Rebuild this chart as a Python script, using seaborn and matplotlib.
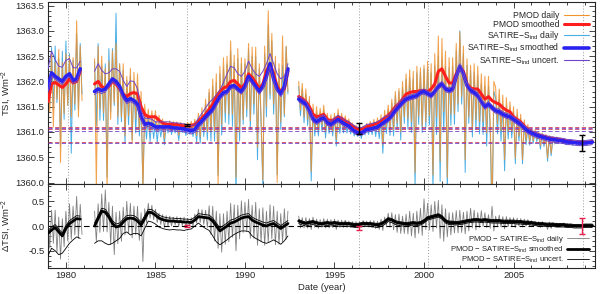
import numpy as np
import pandas as pd
import matplotlib
matplotlib.use("Agg")
import matplotlib.pyplot as plt
from matplotlib.lines import Line2D
from matplotlib.ticker import MultipleLocator, FormatStrFormatter
import seaborn as sns

nan = np.nan

# daily series, one value every 0.1 yr from 1979.0 to 2009.5
years_daily = np.round(1979.0 + 0.1 * np.arange(306), 1)

pmod_daily = [
    1362.1, 1361.4, 1362.55, 1361.1, 1362.38, 1361.65, 1362.63, 1360.4, 1362.38, 1361.36,
    1362.55, 1361.53, 1362.5, 1361.3, 1362.47, 1361.55, 1363.2, 1361.3, 1362.7, 1361.62,
    nan, nan, nan, nan, nan, nan, 1362.45, 1359.9, 1362.7, 1361.45,
    1362.5, 1361.38, 1362.26, 1359.85, 1362.4, 1361.25, 1362.6, 1361.58, 1362.75, 1361.3,
    1362.35, 1361.3, 1362.35, 1360.92, 1362.1, 1361.32, 1362.26, 1360.8, 1362.18, 1361.26,
    1362.15, 1361.05, 1361.8, 1359.82, 1361.55, 1361.07, 1361.45, 1361.0, 1361.42, 1361.1,
    1361.42, 1361.02, 1361.33, 1361.05, 1361.26, 1360.86, 1361.21, 1361.05, 1361.22, 1361.03,
    1361.21, 1361.07, 1361.2, 1360.94, 1361.19, 1361.07, 1361.17, 1361.02, 1361.19, 1361.07,
    1361.21, 1361.04, 1361.25, 1360.93, 1361.37, 1360.9, 1361.48, 1361.02, 1361.65, 1361.0,
    1361.85, 1361.0, 1362.05, 1361.02, 1362.15, 1359.95, 1362.3, 1361.15, 1362.47, 1361.38,
    1362.5, 1361.35, 1362.8, 1361.35, 1362.52, 1360.1, 1362.65, 1361.0, 1362.47, 1361.25,
    1362.45, 1361.45, 1362.75, 1361.22, 1362.68, 1361.55, 1362.68, 1360.7, 1362.35, 1361.28,
    1360.05, 1362.7, 1361.5, 1363.4, 1361.75, 1362.95, 1361.55, 1362.5, 1360.0, 1362.35,
    1361.2, 1362.9, 1361.35, 1362.7, 1361.8, nan, nan, nan, nan, nan,
    1362.0, 1361.43, 1361.96, 1361.3, 1361.85, 1361.25, 1361.7, 1360.22, 1361.55, 1361.05,
    1361.5, 1361.05, 1361.47, 1361.14, 1361.53, 1361.0, 1361.37, 1361.09, 1361.34, 1361.02,
    1361.37, 1360.85, 1361.45, 1361.08, 1361.37, 1361.1, 1361.32, 1361.08, 1361.26, 1361.05,
    1361.18, 1361.02, 1361.13, 1360.99, 1361.1, 1360.96, 1361.12, 1361.02, 1361.17, 1361.04,
    1361.21, 1361.04, 1361.25, 1361.02, 1361.28, 1361.0, 1361.34, 1360.75, 1361.43, 1361.1,
    1361.53, 1361.06, 1361.65, 1361.05, 1361.8, 1361.18, 1361.86, 1361.0, 1362.0, 1361.3,
    1362.15, 1361.26, 1362.23, 1361.2, 1362.2, 1360.2, 1362.3, 1361.31, 1362.27, 1361.12,
    1362.32, 1361.2, 1362.4, 1361.32, 1362.35, 1360.15, 1362.55, 1361.3, 1362.9, 1360.42,
    1362.85, 1361.4, 1362.6, 1360.1, 1362.47, 1361.35, 1362.47, 1361.35, 1362.75, 1361.55,
    1362.98, 1361.7, 1362.7, 1360.45, 1362.45, 1361.3, 1362.32, 1361.05, 1362.35, 1361.25,
    1362.3, 1361.2, 1362.15, 1361.2, 1362.1, 1360.98, 1362.1, 1361.18, 1359.42, 1362.0,
    1361.88, 1361.16, 1361.85, 1361.02, 1361.73, 1360.45, 1361.68, 1361.01, 1361.6, 1361.01,
    1361.5, 1360.48, 1361.45, 1360.92, 1361.35, 1360.45, 1361.24, 1360.83, 1361.15, 1360.82,
    1361.08, 1360.83, 1361.04, 1360.86, 1361.0, 1360.73, 1360.98, 1360.76, 1360.95, 1360.49,
    1360.93, 1360.58, 1360.91, 1360.78, 1360.9, 1360.79, 1360.88, 1360.79, 1360.87, 1360.77,
    1360.85, 1360.78, 1360.84, 1360.76, 1360.82, 1360.77, 1360.83, 1360.76, 1360.81, 1360.76,
    1360.81, 1360.76, 1360.82, 1360.77, 1360.83, 1360.8,
]

satire_daily = [
    1362.25, 1361.55, 1362.67, 1361.44, 1362.7, 1361.58, 1362.45, 1360.72, 1362.6, 1361.25,
    1362.8, 1361.53, 1362.55, 1360.58, 1362.42, 1361.43, 1362.95, 1361.45, 1362.75, 1361.75,
    nan, nan, nan, nan, nan, nan, 1362.4, 1361.12, 1362.75, 1361.23,
    1362.32, 1361.23, 1362.35, 1360.1, 1362.65, 1361.4, 1362.65, 1361.52, 1363.35, 1361.15,
    1362.35, 1361.2, 1362.22, 1360.77, 1362.02, 1361.14, 1362.11, 1360.84, 1361.97, 1360.98,
    1361.9, 1360.92, 1361.6, 1359.92, 1361.35, 1360.86, 1361.32, 1360.81, 1361.27, 1360.87,
    1361.2, 1360.8, 1361.18, 1360.9, 1361.17, 1360.75, 1361.16, 1360.98, 1361.16, 1360.95,
    1361.13, 1360.98, 1361.13, 1360.83, 1361.12, 1360.99, 1361.1, 1360.93, 1361.1, 1360.96,
    1361.09, 1360.91, 1361.13, 1360.8, 1361.27, 1360.78, 1361.37, 1360.91, 1361.55, 1360.84,
    1361.78, 1360.82, 1361.9, 1360.82, 1361.98, 1360.14, 1362.15, 1360.94, 1362.28, 1361.19,
    1362.35, 1361.15, 1362.6, 1361.11, 1362.37, 1359.68, 1362.45, 1360.82, 1362.35, 1361.15,
    1362.35, 1361.3, 1362.65, 1361.05, 1362.5, 1361.35, 1362.5, 1360.45, 1362.25, 1361.15,
    1359.9, 1362.55, 1361.3, 1363.12, 1361.65, 1362.8, 1361.35, 1362.4, 1360.15, 1362.25,
    1361.05, 1362.32, 1361.3, 1362.68, 1361.75, nan, nan, nan, nan, nan,
    1361.9, 1361.32, 1361.85, 1361.18, 1361.75, 1361.13, 1361.62, 1360.03, 1361.45, 1360.92,
    1361.38, 1360.92, 1361.4, 1361.02, 1361.43, 1360.88, 1361.3, 1360.97, 1361.25, 1360.92,
    1361.3, 1360.72, 1361.37, 1360.97, 1361.3, 1360.98, 1361.25, 1360.98, 1361.19, 1360.96,
    1361.1, 1360.92, 1361.05, 1360.91, 1361.02, 1360.87, 1361.05, 1360.94, 1361.11, 1360.95,
    1361.13, 1360.95, 1361.16, 1360.91, 1361.2, 1360.87, 1361.25, 1360.58, 1361.32, 1360.97,
    1361.45, 1360.93, 1361.57, 1360.92, 1361.72, 1361.06, 1361.8, 1360.84, 1361.88, 1361.17,
    1362.05, 1361.06, 1362.08, 1360.99, 1362.05, 1359.91, 1362.17, 1361.15, 1362.18, 1360.99,
    1362.25, 1361.08, 1362.26, 1361.14, 1362.17, 1359.85, 1362.3, 1360.95, 1362.5, 1360.02,
    1362.45, 1361.0, 1362.3, 1359.83, 1362.27, 1361.13, 1362.3, 1361.15, 1362.6, 1361.4,
    1363.0, 1361.55, 1362.55, 1360.2, 1362.32, 1361.17, 1362.22, 1360.9, 1362.18, 1361.05,
    1362.12, 1360.96, 1361.95, 1360.95, 1361.9, 1360.72, 1361.9, 1360.92, 1359.18, 1361.8,
    1361.67, 1360.96, 1361.65, 1360.82, 1361.55, 1360.23, 1361.52, 1360.86, 1361.48, 1360.88,
    1361.4, 1360.37, 1361.35, 1360.82, 1361.27, 1360.37, 1361.18, 1360.75, 1361.1, 1360.74,
    1361.04, 1360.78, 1361.0, 1360.81, 1360.97, 1360.66, 1360.95, 1360.71, 1360.92, 1360.42,
    1360.9, 1360.53, 1360.88, 1360.76, 1360.87, 1360.77, 1360.86, 1360.77, 1360.84, 1360.75,
    1360.82, 1360.75, 1360.83, 1360.73, 1360.81, 1360.75, 1360.8, 1360.73, 1360.8, 1360.74,
    1360.8, 1360.75, 1360.81, 1360.76, 1360.82, 1360.79,
]

diff_daily = [
    0.15, -0.45, 0.32, -0.35, 0.32, -0.53, 0.18, -0.67, 0.15, -0.42,
    0.3, -0.3, 0.45, -0.27, 0.4, -0.18, 0.6, -0.25, 0.44, -0.17,
    nan, nan, nan, nan, nan, nan, 0.3, -0.32, 0.45, -0.13,
    0.65, -0.11, 0.73, -0.12, 0.48, -0.38, 0.4, -0.58, 0.28, -0.36,
    0.3, -0.31, 0.38, -0.18, 0.5, -0.14, 0.46, -0.24, 0.4, -0.18,
    0.4, -0.29, 0.27, -0.72, 0.35, 0.07, 0.46, 0.16, 0.42, 0.13,
    0.34, 0.07, 0.26, 0.03, 0.23, -0.03, 0.21, 0.0, 0.2, 0.0,
    0.18, 0.02, 0.19, -0.01, 0.17, 0.01, 0.18, -0.02, 0.15, 0.0,
    0.17, 0.0, 0.24, 0.06, 0.34, 0.07, 0.33, 0.03, 0.32, -0.03,
    0.41, -0.17, 0.4, -0.3, 0.3, -0.45, 0.25, -0.53, 0.25, -0.37,
    0.3, -0.32, 0.46, -0.23, 0.43, -0.5, 0.42, -0.26, 0.51, -0.13,
    0.48, -0.11, 0.54, -0.25, 0.42, -0.25, 0.48, -0.39, 0.35, -0.32,
    0.37, -0.39, 0.3, -0.33, 0.43, -0.26, 0.4, -0.38, 0.3, -0.37,
    0.25, -0.32, 0.35, -0.27, 0.3, nan, nan, nan, nan, nan,
    0.2, -0.04, 0.17, -0.04, 0.17, -0.04, 0.15, -0.07, 0.18, -0.03,
    0.14, -0.05, 0.13, -0.03, 0.15, -0.04, 0.14, -0.04, 0.13, -0.03,
    0.14, -0.07, 0.12, -0.03, 0.12, -0.03, 0.12, -0.03, 0.1, -0.03,
    0.09, -0.03, 0.09, -0.04, 0.08, -0.03, 0.11, 0.0, 0.1, -0.02,
    0.11, -0.03, 0.11, -0.05, 0.1, -0.07, 0.14, -0.09, 0.18, 0.01,
    0.26, -0.02, 0.27, -0.08, 0.23, -0.13, 0.24, -0.15, 0.2, -0.15,
    0.24, -0.16, 0.3, -0.2, 0.26, -0.24, 0.3, -0.15, 0.36, -0.19,
    0.55, -0.07, 0.46, -0.08, 0.43, -0.11, 0.5, -0.04, 0.52, -0.25,
    0.43, -0.31, 0.35, -0.22, 0.27, -0.18, 0.27, -0.14, 0.31, -0.14,
    0.32, -0.13, 0.28, -0.16, 0.3, -0.1, 0.36, -0.04, 0.32, -0.08,
    0.27, -0.03, 0.31, -0.01, 0.27, -0.03, 0.23, -0.05, 0.4, -0.1,
    0.2, 0.0, 0.22, -0.02, 0.19, -0.06, 0.19, -0.01, 0.17, -0.01,
    0.17, -0.03, 0.16, 0.0, 0.15, -0.02, 0.14, 0.0, 0.13, 0.0,
    0.11, 0.0, 0.1, 0.0, 0.09, -0.03, 0.09, -0.01, 0.07, -0.07,
    0.08, -0.05, 0.07, -0.01, 0.06, -0.02, 0.05, -0.02, 0.06, -0.02,
    0.05, -0.02, 0.04, -0.03, 0.03, -0.03, 0.03, -0.03, 0.03, -0.03,
    0.04, -0.02, 0.03, -0.02, 0.03, 0.0,
]

# smoothed series, one value every 0.2 yr from 1979.0 to 2009.4
years_smooth = np.round(1979.0 + 0.2 * np.arange(153), 1)

pmod_smooth = [
    1361.6, 1361.95, 1361.98, 1361.93, 1361.88,
    1361.95, 1362.05, 1361.97, 1362.0, 1362.2,
    nan, nan, nan, 1361.95, 1362.0,
    1361.9, 1361.86, 1361.9, 1362.0, 1361.95,
    1361.85, 1361.75, 1361.7, 1361.76, 1361.78,
    1361.75, 1361.5, 1361.35, 1361.3, 1361.3,
    1361.3, 1361.23, 1361.18, 1361.15, 1361.15,
    1361.15, 1361.15, 1361.13, 1361.12, 1361.12,
    1361.13, 1361.15, 1361.22, 1361.28, 1361.35,
    1361.45, 1361.55, 1361.7, 1361.8, 1361.87,
    1361.9, 1362.0, 1362.02, 1361.95, 1361.87,
    1361.95, 1362.15, 1362.08, 1361.98, 1361.85,
    1361.95, 1362.2, 1362.35, 1362.15, 1361.9,
    1361.8, 1361.85, 1362.2, nan, nan,
    1361.7, 1361.66, 1361.6, 1361.5, 1361.35,
    1361.3, 1361.32, 1361.35, 1361.25, 1361.22,
    1361.25, 1361.3, 1361.27, 1361.22, 1361.18,
    1361.12, 1361.08, 1361.05, 1361.07, 1361.1,
    1361.13, 1361.15, 1361.18, 1361.22, 1361.28,
    1361.33, 1361.4, 1361.5, 1361.56, 1361.65,
    1361.75, 1361.78, 1361.8, 1361.8, 1361.82,
    1361.82, 1361.8, 1361.85, 1361.95, 1362.2,
    1362.25, 1362.1, 1361.97, 1361.97, 1362.15,
    1362.28, 1362.2, 1361.95, 1361.87, 1361.85,
    1361.85, 1361.75, 1361.65, 1361.7, 1361.62,
    1361.58, 1361.55, 1361.48, 1361.43, 1361.4,
    1361.3, 1361.25, 1361.2, 1361.12, 1361.05,
    1361.0, 1360.97, 1360.94, 1360.92, 1360.9,
    1360.88, 1360.87, 1360.86, 1360.85, 1360.84,
    1360.82, 1360.81, 1360.8, 1360.8, 1360.79,
    1360.79, 1360.8, 1360.81,
]

satire_smooth = [
    1361.85, 1362.17, 1362.1, 1362.05, 1362.0,
    1362.1, 1362.15, 1362.02, 1362.05, 1362.25,
    nan, nan, nan, 1361.8, 1361.85,
    1361.82, 1361.85, 1361.95, 1362.05, 1362.0,
    1361.9, 1361.72, 1361.62, 1361.66, 1361.62,
    1361.55, 1361.3, 1361.15, 1361.17, 1361.15,
    1361.1, 1361.1, 1361.1, 1361.1, 1361.1,
    1361.08, 1361.08, 1361.07, 1361.06, 1361.04,
    1361.02, 1361.05, 1361.15, 1361.22, 1361.3,
    1361.38, 1361.45, 1361.58, 1361.7, 1361.78,
    1361.8, 1361.9, 1361.92, 1361.85, 1361.8,
    1361.9, 1362.1, 1362.0, 1361.9, 1361.8,
    1361.9, 1362.1, 1362.35, 1362.05, 1361.85,
    1361.75, 1361.9, 1362.25, nan, nan,
    1361.65, 1361.6, 1361.55, 1361.42, 1361.25,
    1361.2, 1361.25, 1361.28, 1361.18, 1361.15,
    1361.2, 1361.25, 1361.2, 1361.15, 1361.12,
    1361.05, 1361.0, 1360.98, 1361.0, 1361.05,
    1361.06, 1361.08, 1361.1, 1361.15, 1361.2,
    1361.25, 1361.32, 1361.42, 1361.5, 1361.58,
    1361.65, 1361.68, 1361.7, 1361.72, 1361.78,
    1361.8, 1361.76, 1361.72, 1361.8, 1361.9,
    1361.95, 1361.85, 1361.82, 1361.85, 1362.1,
    1362.3, 1362.15, 1361.92, 1361.82, 1361.78,
    1361.72, 1361.6, 1361.5, 1361.55, 1361.48,
    1361.42, 1361.4, 1361.35, 1361.32, 1361.3,
    1361.25, 1361.2, 1361.15, 1361.08, 1361.02,
    1360.98, 1360.95, 1360.92, 1360.9, 1360.88,
    1360.86, 1360.85, 1360.84, 1360.83, 1360.82,
    1360.8, 1360.8, 1360.79, 1360.78, 1360.78,
    1360.78, 1360.79, 1360.8,
]

# SATIRE uncertainty range (above / below the smoothed curve)
satire_unc_up = [
    0.4, 0.43, 0.33, 0.25, 0.28,  0.32, 0.3, 0.25, 0.22, 0.15,
    0.4, 0.4, 0.4, 0.4, 0.5,  0.4, 0.3, 0.22, 0.2, 0.25,
    0.3, 0.3, 0.28, 0.35, 0.38,  0.3, 0.12, 0.12, 0.1, 0.1,
    0.1, 0.1, 0.1, 0.1, 0.1,  0.1, 0.1, 0.1, 0.1, 0.1,
    0.1, 0.1, 0.12, 0.15, 0.18,  0.2, 0.2, 0.15, 0.13, 0.2,
    0.35, 0.4, 0.35, 0.3, 0.3,  0.3, 0.3, 0.25, 0.25, 0.3,
    0.3, 0.25, 0.2, 0.3, 0.3,  0.3, 0.2, 0.1, 0.1, 0.1,
] + [0.06] * 10 + [0.08] * 5 + [0.1] * 10 + [0.08] * 5 + [0.05] * 53
satire_unc_dn = [0.06] * 50 + [0.05] * 103

# PMOD - SATIRE smoothed difference and its uncertainty range
diff_smooth = [
    -0.15, -0.08, -0.03, -0.12, -0.2,
    -0.05, 0.05, 0.1, 0.15, 0.14,
    nan, nan, nan, 0.0, 0.15,
    0.3, 0.28, 0.18, 0.05, -0.02,
    0.0, 0.08, 0.15, 0.16, 0.15,
    0.1, 0.02, 0.15, 0.28, 0.27,
    0.22, 0.16, 0.13, 0.11, 0.1,
    0.1, 0.09, 0.09, 0.08, 0.08,
    0.07, 0.12, 0.19, 0.18, 0.17,
    0.16, 0.1, 0.0, -0.1, -0.05,
    0.0, 0.06, 0.08, 0.12, 0.16,
    0.18, 0.19, 0.12, 0.08, 0.05,
    0.02, 0.0, 0.03, 0.05, 0.0,
    -0.05, 0.0, 0.05, nan, nan,
    0.1, 0.07, 0.05, 0.07, 0.08,
    0.06, 0.04, 0.05, 0.06, 0.05,
    0.06, 0.05, 0.04, 0.05, 0.04,
    0.03, 0.02, 0.03, 0.05, 0.04,
    0.04, 0.03, 0.02, 0.04, 0.08,
    0.14, 0.12, 0.08, 0.06, 0.05,
    0.04, 0.05, 0.06, 0.05, 0.06,
    0.1, 0.16, 0.18, 0.2, 0.22,
    0.18, 0.1, 0.07, 0.07, 0.06,
    0.07, 0.08, 0.1, 0.11, 0.12,
    0.12, 0.11, 0.12, 0.11, 0.1,
    0.1, 0.1, 0.09, 0.09, 0.09,
    0.09, 0.08, 0.08, 0.07, 0.07,
    0.06, 0.05, 0.04, 0.04, 0.03,
    0.03, 0.03, 0.02, 0.02, 0.02,
    0.01, 0.01, 0.0, 0.0, 0.0,
    0.01, 0.01, 0.01,
]
diff_unc_up = [0.06] * 70 + [0.03] * 83
diff_unc_dn = [
    0.45, 0.37, 0.47, 0.46, 0.35,  0.4, 0.4, 0.38, 0.37, 0.39,
    0.4, 0.4, 0.4, 0.35, 0.45,  0.6, 0.63, 0.56, 0.4, 0.28,
    0.25, 0.23, 0.27, 0.34, 0.3,  0.25, 0.22, 0.2, 0.18, 0.19,
    0.18, 0.18, 0.18, 0.18, 0.18,  0.17, 0.17, 0.17, 0.17, 0.15,
    0.13, 0.12, 0.13, 0.18, 0.22,  0.25, 0.3, 0.32, 0.28, 0.28,
    0.28, 0.28, 0.25, 0.25, 0.26,  0.28, 0.3, 0.32, 0.33, 0.34,
    0.35, 0.35, 0.35, 0.33, 0.32,  0.32, 0.3, 0.25, 0.25, 0.25,
] + [0.05] * 30 + [0.04] * 53

# epochs marked by dotted lines, minimum levels, error bars
epoch_years = [1980.1, 1986.75, 1996.35, 2000.25, 2008.9]
pmod_min_levels = [1361.10, 1361.05, 1360.81]
satire_min_levels = [1361.08, 1361.01, 1360.79]
err_years = [1986.75, 1996.35, 2008.8]
err_tsi = [1361.13, 1361.07, 1360.78]
err_tsi_size = [0.02, 0.11, 0.16]
err_diff = [0.0, -0.04, 0.0]
err_diff_size = [0.03, 0.05, 0.17]

C_ORANGE = "#f0922e"
C_LBLUE = "#4aaee6"
C_RED = "#ff1e1e"
C_BLUE = "#2a22f0"
C_PURPLE = "#6f45c8"
C_GREY = "#808080"
C_ERR_RED = "#e8204c"


def segments(x, y):
    df = pd.DataFrame({"year": x, "v": np.asarray(y, dtype=float)})
    df["seg"] = df["v"].isna().cumsum()
    return df.dropna()


def draw(ax, x, y, color, lw, z, ls="-", alpha=1.0):
    sns.lineplot(data=segments(x, y), x="year", y="v", units="seg", estimator=None,
                 sort=False, color=color, lw=lw, ls=ls, alpha=alpha, zorder=z,
                 ax=ax, legend=False)


sns.set_theme(style="ticks")
plt.rcParams["font.family"] = ["Liberation Sans", "DejaVu Sans"]
plt.rcParams["mathtext.fontset"] = "custom"
plt.rcParams["mathtext.rm"] = "Liberation Sans"
plt.rcParams["mathtext.it"] = "Liberation Sans:italic"
plt.rcParams["axes.linewidth"] = 0.8

fig = plt.figure(figsize=(6, 2.94), dpi=100)
ax1 = fig.add_axes([0.08, 0.374, 0.9117, 0.619])
ax2 = fig.add_axes([0.08, 0.0884, 0.9117, 0.2857], sharex=ax1)

ps = np.asarray(pmod_smooth)
ss = np.asarray(satire_smooth)
ds = np.asarray(diff_smooth)

# --- top panel: TSI ---
draw(ax1, years_daily, satire_daily, C_LBLUE, 0.7, 1)
draw(ax1, years_daily, pmod_daily, C_ORANGE, 0.75, 2, alpha=0.85)
for lev in pmod_min_levels:
    ax1.axhline(lev, color="#d0405a", lw=0.6, ls=(0, (5, 3)), zorder=3)
for lev in satire_min_levels:
    ax1.axhline(lev, color=C_PURPLE, lw=0.6, ls=(0, (5, 3)), zorder=3)
draw(ax1, years_smooth, ps, C_RED, 2.2, 5)
draw(ax1, years_smooth, ss, C_BLUE, 2.6, 6)
draw(ax1, years_smooth, ss + np.asarray(satire_unc_up), C_PURPLE, 0.7, 7)
draw(ax1, years_smooth, ss - np.asarray(satire_unc_dn), C_PURPLE, 0.7, 7)
ax1.errorbar(err_years, err_tsi, yerr=err_tsi_size, fmt="none", ecolor="black",
             elinewidth=1.0, capsize=2.5, capthick=1.0, zorder=9)

# --- bottom panel: difference ---
draw(ax2, years_daily, diff_daily, C_GREY, 0.6, 1)
ax2.axhline(0.0, color="black", lw=0.8, ls=(0, (5, 3)), zorder=2)
draw(ax2, years_smooth, ds, "black", 2.0, 5)
draw(ax2, years_smooth, ds + np.asarray(diff_unc_up), "black", 0.6, 4)
draw(ax2, years_smooth, ds - np.asarray(diff_unc_dn), "black", 0.6, 4)
ax2.errorbar(err_years, err_diff, yerr=err_diff_size, fmt="none", ecolor=C_ERR_RED,
             elinewidth=1.0, capsize=2.5, capthick=1.0, zorder=9)

for ax in (ax1, ax2):
    for yr in epoch_years:
        ax.axvline(yr, color="#9a9a9a", lw=0.7, ls=(0, (1, 2)), zorder=0)
    ax.set_xlim(1979.0, 2009.55)
    ax.xaxis.set_major_locator(MultipleLocator(5))
    ax.xaxis.set_minor_locator(MultipleLocator(1))
    ax.tick_params(which="both", direction="in", top=True, right=True,
                   width=0.6, labelsize=6.8, pad=2.5)
    ax.tick_params(which="major", length=4)
    ax.tick_params(which="minor", length=2)

ax1.set_ylim(1359.97, 1363.57)
ax1.yaxis.set_major_locator(MultipleLocator(0.5))
ax1.yaxis.set_minor_locator(MultipleLocator(0.1))
ax1.yaxis.set_major_formatter(FormatStrFormatter("%.1f"))
ax1.tick_params(labelbottom=False)
ax1.set_xlabel("")
ax1.set_ylabel(r"TSI, Wm$^{-2}$", fontsize=6.8)
ax1.yaxis.set_label_coords(-0.064, 0.5)

ax2.set_ylim(-0.85, 0.85)
ax2.yaxis.set_major_locator(MultipleLocator(0.5))
ax2.yaxis.set_minor_locator(MultipleLocator(0.1))
ax2.yaxis.set_major_formatter(FormatStrFormatter("%.1f"))
ax2.set_xlabel("Date (year)", fontsize=6.8, labelpad=2)
ax2.set_ylabel(r"$\Delta$TSI, Wm$^{-2}$", fontsize=6.8)
ax2.yaxis.set_label_coords(-0.064, 0.5)

top_handles = [
    Line2D([], [], color=C_ORANGE, lw=0.8),
    Line2D([], [], color=C_RED, lw=2.2),
    Line2D([], [], color=C_LBLUE, lw=0.8),
    Line2D([], [], color=C_BLUE, lw=2.6),
    Line2D([], [], color=C_PURPLE, lw=0.8),
]
top_labels = [
    "PMOD daily",
    "PMOD smoothed",
    r"SATIRE$-$S$_{\rm ind}$ daily",
    r"SATIRE$-$S$_{\rm ind}$ smoothed",
    r"SATIRE$-$S$_{\rm ind}$ uncert.",
]
ax1.legend(top_handles, top_labels, loc="upper right", bbox_to_anchor=(0.998, 0.98),
           frameon=False, markerfirst=False, fontsize=6.2, handlelength=2.9,
           handletextpad=0.5, labelspacing=0.0, borderaxespad=0.2)

bot_handles = [
    Line2D([], [], color=C_GREY, lw=0.6),
    Line2D([], [], color="black", lw=2.0),
    Line2D([], [], color="black", lw=0.6),
]
bot_labels = [
    r"PMOD $-$ SATIRE$-$S$_{\rm ind}$ daily",
    r"PMOD $-$ SATIRE$-$S$_{\rm ind}$ smoothed",
    r"PMOD $-$ SATIRE$-$S$_{\rm ind}$ uncert.",
]
ax2.legend(bot_handles, bot_labels, loc="lower right", bbox_to_anchor=(0.998, -0.02),
           frameon=False, markerfirst=False, fontsize=5.5, handlelength=2.9,
           handletextpad=0.5, labelspacing=0.0, borderaxespad=0.2)

fig.savefig("out.png", dpi=100)
